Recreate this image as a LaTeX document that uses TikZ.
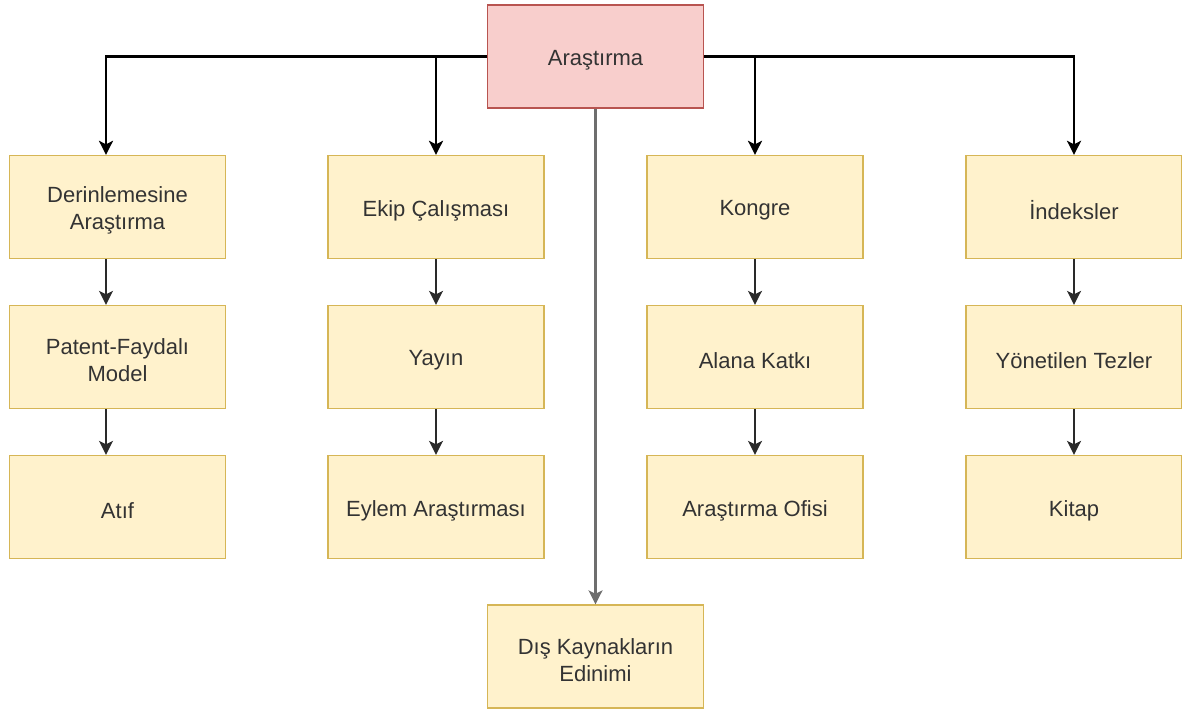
\documentclass[tikz,border=0pt]{standalone}
\usepackage{fontspec}
\setmainfont{Liberation Sans}
\usetikzlibrary{arrows.meta,positioning}

\definecolor{boxfill}{HTML}{FFF2CC}
\definecolor{boxline}{HTML}{D6B656}
\definecolor{rootfill}{HTML}{F8CECC}
\definecolor{rootline}{HTML}{B85450}
\definecolor{labelc}{HTML}{333333}
\definecolor{linkc}{HTML}{2A2A2A}
\definecolor{midc}{HTML}{6E6E6E}

\tikzset{
  boxtext/.style={align=center, font=\fontsize{22}{27}\selectfont,
    text=labelc, inner sep=0pt, yshift=-3.5pt},
  box/.style={draw=boxline, fill=boxfill, line width=1.3pt, rectangle,
    minimum width=216pt, minimum height=103pt, inner sep=0pt,
    label={[boxtext]center:{#1}}},
  rootbox/.style={box={#1}, draw=rootline, fill=rootfill},
  tip/.style={-{Stealth[length=14pt,width=14pt,inset=3.5pt]}},
  trunk/.style={tip, draw=black, line width=2.8pt},
  link/.style={tip, draw=linkc, line width=2pt},
  midlink/.style={tip, draw=midc, line width=2.2pt},
}

\begin{document}
\begin{tikzpicture}[x=1pt,y=-1pt]
  \useasboundingbox (0,0) rectangle (1182,711);

  % top node
  \node[rootbox={Araştırma}] (root) at (595.5,56.5) {};

  % column 1
  \node[box={Derinlemesine\\Araştırma}] (c1a) at (117.5,207) {};
  \node[box={Patent-Faydalı\\Model}] (c1b) at (117.5,357) {};
  \node[box={Atıf}] (c1c) at (117.5,507) {};

  % column 2
  \node[box={Ekip Çalışması}] (c2a) at (436,207) {};
  \node[box={Yayın}] (c2b) at (436,357) {};
  \node[box={Eylem Araştırması}] (c2c) at (436,507) {};

  % column 3
  \node[box={Kongre}] (c3a) at (755,207) {};
  \node[box={Alana Katkı}] (c3b) at (755,357) {};
  \node[box={Araştırma Ofisi}] (c3c) at (755,507) {};

  % column 4
  \node[box={İndeksler}] (c4a) at (1074,207) {};
  \node[box={Yönetilen Tezler}] (c4b) at (1074,357) {};
  \node[box={Kitap}] (c4c) at (1074,507) {};

  % bottom node
  \node[box={Dış Kaynakların\\Edinimi}] (ext) at (595.5,656.5) {};

  % branches from the top node
  \draw[trunk] (root.west) -| ([xshift=-11.5pt]c1a.north);
  \draw[trunk] (root.west) -| (c2a.north);
  \draw[trunk] (root.east) -| (c3a.north);
  \draw[trunk] (root.east) -| (c4a.north);
  \draw[midlink] (root.south) -- (ext.north);

  % links inside the columns
  \draw[link] ([xshift=-11.5pt]c1a.south) -- ([xshift=-11.5pt]c1b.north);
  \draw[link] ([xshift=-11.5pt]c1b.south) -- ([xshift=-11.5pt]c1c.north);
  \draw[link] (c2a) -- (c2b);
  \draw[link] (c2b) -- (c2c);
  \draw[link] (c3a) -- (c3b);
  \draw[link] (c3b) -- (c3c);
  \draw[link] (c4a) -- (c4b);
  \draw[link] (c4b) -- (c4c);
\end{tikzpicture}
\end{document}
